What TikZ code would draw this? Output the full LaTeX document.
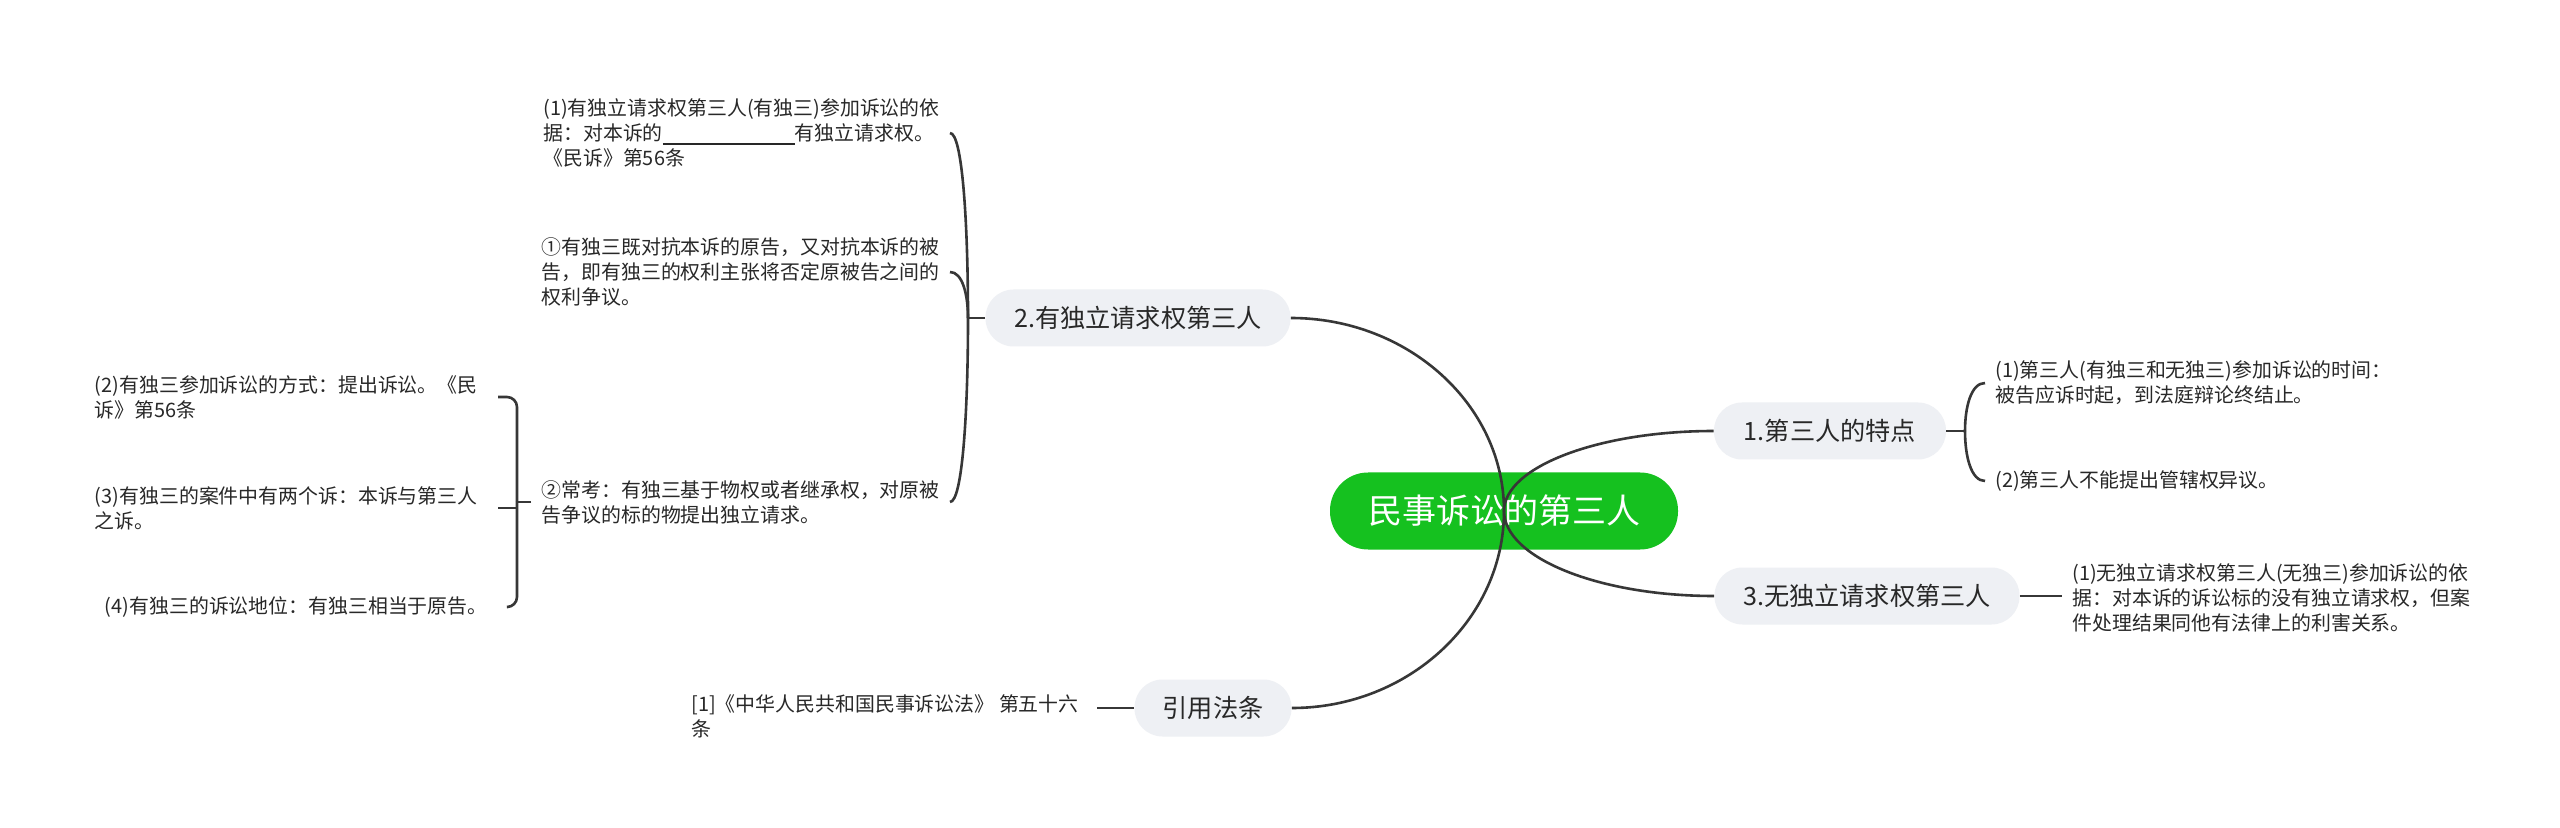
\documentclass[tikz,border=0pt]{standalone}
\usepackage{fontspec}
\setmainfont{Noto Sans CJK SC}
\newfontfamily\cjk{Noto Sans CJK SC}
\usetikzlibrary{calc}
\definecolor{rootgreen}{RGB}{21,193,31}
\definecolor{branchfill}{RGB}{238,240,244}
\definecolor{ink}{RGB}{40,40,40}
\definecolor{linecol}{RGB}{55,55,55}
\begin{document}
\begin{tikzpicture}[x=0.5pt,y=-0.5pt,
  rootnode/.style={fill=rootgreen, rounded corners=19pt, minimum width=174pt, minimum height=38.5pt, text=white, font=\cjk\fontsize{17}{20}\selectfont, inner sep=0pt},
  branch/.style={fill=branchfill, rounded corners=14pt, minimum height=28.5pt, text=ink, font=\cjk\fontsize{12.6}{15}\selectfont, inner sep=0pt},
  leaf/.style={text=ink, font=\cjk\fontsize{9.95}{12.5}\selectfont, align=left, inner ysep=0pt},
  edge/.style={draw=linecol, line width=1.3pt},
]
\useasboundingbox (0,0) rectangle (2560,828);
\fill[white] (0,0) rectangle (2560,828);

% main nodes
\node[rootnode] (root) at (1504,511) {民事诉讼的第三人};
\node[branch, minimum width=152.5pt] (n2) at (1138,318) {2.有独立请求权第三人};
\node[branch, minimum width=116pt] (n1) at (1830,431) {1.第三人的特点};
\node[branch, minimum width=152.5pt] (n3) at (1867,596) {3.无独立请求权第三人};
\node[branch, minimum width=78.5pt] (ref) at (1213,708) {引用法条};

% junction points
\coordinate (S2) at (968,318);
\coordinate (S3) at (517,502);
\coordinate (S1) at (1965,431);

% leaves of 2
\node[leaf, anchor=east, inner xsep=5pt] (c1) at (950,133) {(1)有独立请求权第三人(有独三)参加诉讼的依\\据：对本诉的\rule[-2pt]{66pt}{0.6pt}有独立请求权。\\《民诉》第56条};
\node[leaf, anchor=east, inner xsep=5pt] (c2) at (950,272) {①有独三既对抗本诉的原告，又对抗本诉的被\\告，即有独三的权利主张将否定原被告之间的\\权利争议。};
\node[leaf, anchor=east, inner xsep=5pt] (c3) at (950,502) {②常考：有独三基于物权或者继承权，对原被\\告争议的标的物提出独立请求。};
\node[leaf, anchor=east, inner xsep=10pt] (d1) at (498,397) {(2)有独三参加诉讼的方式：提出诉讼。《民\\诉》第56条};
\node[leaf, anchor=east, inner xsep=10pt] (d2) at (498,508) {(3)有独三的案件中有两个诉：本诉与第三人\\之诉。};
\node[leaf, anchor=east, inner xsep=5pt] (d3) at (498,607) {(4)有独三的诉讼地位：有独三相当于原告。};
% leaves of 1
\node[leaf, anchor=west, inner xsep=5pt] (e1) at (1985,383) {(1)第三人(有独三和无独三)参加诉讼的时间：\\被告应诉时起，到法庭辩论终结止。};
\node[leaf, anchor=west, inner xsep=5pt] (e2) at (1985,481) {(2)第三人不能提出管辖权异议。};
% leaf of 3
\node[leaf, anchor=west, inner xsep=5pt] (f1) at (2062,598) {(1)无独立请求权第三人(无独三)参加诉讼的依\\据：对本诉的诉讼标的没有独立请求权，但案\\件处理结果同他有法律上的利害关系。};
% leaf of ref
\node[leaf, anchor=east, inner xsep=9pt] (g1) at (1097,716) {[1]《中华人民共和国民事诉讼法》 第五十六\\条};

% main curves
\draw[edge] (root.center) .. controls ($(root.center)!0.55!(root.center |- n2.east)$) and ($(n2.east)!0.55!(root.center |- n2.east)$) .. (n2.east);
\draw[edge] (root.center) .. controls ($(root.center)!0.55!(root.center |- ref.east)$) and ($(ref.east)!0.55!(root.center |- ref.east)$) .. (ref.east);
\draw[edge] (root.center) .. controls ($(root.center)!0.55!(root.center |- n1.west)$) and ($(n1.west)!0.55!(root.center |- n1.west)$) .. (n1.west);
\draw[edge] (root.center) .. controls ($(root.center)!0.55!(root.center |- n3.west)$) and ($(n3.west)!0.55!(root.center |- n3.west)$) .. (n3.west);

% bracket of 2
\draw[edge] (n2.west) -- (S2);
\draw[edge] (S2) .. controls ($(S2)!0.5!(S2 |- c1.east)$) and ($(S2 |- c1.east)!0.3!(c1.east)$) .. (c1.east);
\draw[edge] (S2) .. controls ($(S2)!0.5!(S2 |- c2.east)$) and ($(S2 |- c2.east)!0.3!(c2.east)$) .. (c2.east);
\draw[edge] (S2) .. controls ($(S2)!0.5!(S2 |- c3.east)$) and ($(S2 |- c3.east)!0.3!(c3.east)$) .. (c3.east);

% bracket of (2)
\draw[edge] (c3.west) -- (S3);
\draw[edge, rounded corners=5pt] (S3) |- (d1.east);
\draw[edge, rounded corners=5pt] (S3) |- ([xshift=5pt]d3.east);
\draw[edge] (S3 |- d2.east) -- (d2.east);

% bracket of 1
\draw[edge] (n1.east) -- (S1);
\draw[edge] (S1) .. controls ($(S1)!0.5!(S1 |- e1.west)$) and ($(S1 |- e1.west)!0.3!(e1.west)$) .. (e1.west);
\draw[edge] (S1) .. controls ($(S1)!0.5!(S1 |- e2.west)$) and ($(S1 |- e2.west)!0.3!(e2.west)$) .. (e2.west);

% single links
\draw[edge] (n3.east) -- (n3.east -| f1.west);
\draw[edge] (ref.west) -- (ref.west -| g1.east);
\end{tikzpicture}
\end{document}
